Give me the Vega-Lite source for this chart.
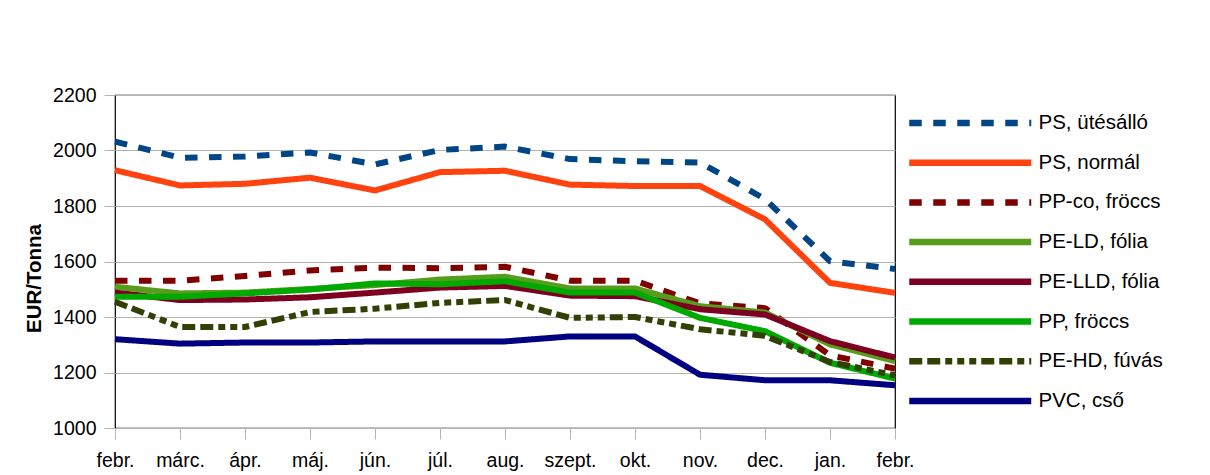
{
  "$schema": "https://vega.github.io/schema/vega-lite/v6.json",
  "width": 780,
  "height": 333,
  "autosize": {"type": "none"},
  "padding": {"left": 115, "top": 95, "right": 315, "bottom": 47},
  "background": "white",
  "config": {
    "font": "Liberation Sans",
    "view": {"stroke": "#000000", "strokeWidth": 1.2}
  },
  "data": {
    "values": [
      {"honap": "febr.", "PS, ütésálló": 2032, "PS, normál": 1929, "PP-co, fröccs": 1531, "PE-LD, fólia": 1509, "PE-LLD, fólia": 1488, "PP, fröccs": 1473, "PE-HD, fúvás": 1455, "PVC, cső": 1320},
      {"honap": "márc.", "PS, ütésálló": 1974, "PS, normál": 1874, "PP-co, fröccs": 1531, "PE-LD, fólia": 1485, "PE-LLD, fólia": 1461, "PP, fröccs": 1473, "PE-HD, fúvás": 1364, "PVC, cső": 1304},
      {"honap": "ápr.", "PS, ütésálló": 1978, "PS, normál": 1880, "PP-co, fröccs": 1548, "PE-LD, fólia": 1488, "PE-LLD, fólia": 1463, "PP, fröccs": 1485, "PE-HD, fúvás": 1364, "PVC, cső": 1308},
      {"honap": "máj.", "PS, ütésálló": 1993, "PS, normál": 1902, "PP-co, fröccs": 1568, "PE-LD, fólia": 1501, "PE-LLD, fólia": 1471, "PP, fröccs": 1499, "PE-HD, fúvás": 1418, "PVC, cső": 1308},
      {"honap": "jún.", "PS, ütésálló": 1950, "PS, normál": 1856, "PP-co, fröccs": 1578, "PE-LD, fólia": 1515, "PE-LLD, fólia": 1488, "PP, fröccs": 1521, "PE-HD, fúvás": 1430, "PVC, cső": 1312},
      {"honap": "júl.", "PS, ütésálló": 2002, "PS, normál": 1922, "PP-co, fröccs": 1576, "PE-LD, fólia": 1535, "PE-LLD, fólia": 1506, "PP, fröccs": 1518, "PE-HD, fúvás": 1451, "PVC, cső": 1312},
      {"honap": "aug.", "PS, ütésálló": 2014, "PS, normál": 1927, "PP-co, fröccs": 1581, "PE-LD, fólia": 1545, "PE-LLD, fólia": 1512, "PP, fröccs": 1529, "PE-HD, fúvás": 1461, "PVC, cső": 1312},
      {"honap": "szept.", "PS, ütésálló": 1969, "PS, normál": 1877, "PP-co, fröccs": 1531, "PE-LD, fólia": 1503, "PE-LLD, fólia": 1477, "PP, fröccs": 1488, "PE-HD, fúvás": 1397, "PVC, cső": 1330},
      {"honap": "okt.", "PS, ütésálló": 1961, "PS, normál": 1872, "PP-co, fröccs": 1531, "PE-LD, fólia": 1503, "PE-LLD, fólia": 1475, "PP, fröccs": 1488, "PE-HD, fúvás": 1400, "PVC, cső": 1330},
      {"honap": "nov.", "PS, ütésálló": 1957, "PS, normál": 1872, "PP-co, fröccs": 1449, "PE-LD, fólia": 1439, "PE-LLD, fólia": 1428, "PP, fröccs": 1397, "PE-HD, fúvás": 1356, "PVC, cső": 1192},
      {"honap": "dec.", "PS, ütésálló": 1825, "PS, normál": 1752, "PP-co, fröccs": 1432, "PE-LD, fólia": 1416, "PE-LLD, fólia": 1409, "PP, fröccs": 1349, "PE-HD, fúvás": 1332, "PVC, cső": 1172},
      {"honap": "jan.", "PS, ütésálló": 1601, "PS, normál": 1523, "PP-co, fröccs": 1262, "PE-LD, fólia": 1301, "PE-LLD, fólia": 1313, "PP, fröccs": 1235, "PE-HD, fúvás": 1238, "PVC, cső": 1172},
      {"honap": "febr. ", "PS, ütésálló": 1573, "PS, normál": 1487, "PP-co, fröccs": 1214, "PE-LD, fólia": 1241, "PE-LLD, fólia": 1254, "PP, fröccs": 1178, "PE-HD, fúvás": 1190, "PVC, cső": 1154}
    ]
  },
  "transform": [
    {"fold": ["PS, ütésálló", "PS, normál", "PP-co, fröccs", "PE-LD, fólia", "PE-LLD, fólia", "PP, fröccs", "PE-HD, fúvás", "PVC, cső"], "as": ["sorozat", "ar"]}
  ],
  "mark": {"type": "line", "strokeWidth": 6, "strokeCap": "butt", "strokeJoin": "round"},
  "encoding": {
    "x": {
      "field": "honap",
      "type": "ordinal",
      "sort": ["febr.", "márc.", "ápr.", "máj.", "jún.", "júl.", "aug.", "szept.", "okt.", "nov.", "dec.", "jan.", "febr. "],
      "scale": {"type": "point", "padding": 0},
      "axis": {
        "title": null,
        "domain": false,
        "grid": false,
        "ticks": true,
        "tickColor": "#b3b3b3",
        "tickSize": 11,
        "labelAngle": 0,
        "labelPadding": 12,
        "labelFontSize": 19.5,
        "labelColor": "#000000",
        "labelExpr": "trim(datum.label)"
      }
    },
    "y": {
      "field": "ar",
      "type": "quantitative",
      "scale": {"domain": [1000, 2200], "nice": false, "zero": false},
      "axis": {
        "values": [1000, 1200, 1400, 1600, 1800, 2000, 2200],
        "format": "d",
        "title": "EUR/Tonna",
        "titleFontSize": 20.5,
        "titleFontWeight": "bold",
        "titleColor": "#000000",
        "titleAngle": 270,
        "titleX": -75,
        "titleY": 183,
        "titleAlign": "center",
        "titleBaseline": "alphabetic",
        "domain": false,
        "grid": true,
        "gridColor": "#b3b3b3",
        "gridWidth": 1,
        "tickColor": "#b3b3b3",
        "tickSize": 11,
        "labelPadding": 8,
        "labelFontSize": 19.5,
        "labelColor": "#000000"
      }
    },
    "color": {
      "field": "sorozat",
      "type": "nominal",
      "scale": {
        "domain": ["PS, ütésálló", "PS, normál", "PP-co, fröccs", "PE-LD, fólia", "PE-LLD, fólia", "PP, fröccs", "PE-HD, fúvás", "PVC, cső"],
        "range": ["#004586", "#ff420e", "#800000", "#579d1c", "#7e0021", "#00a900", "#314004", "#000080"]
      },
      "legend": {
        "title": null,
        "orient": "none",
        "legendX": 790.75,
        "legendY": 18,
        "padding": 0,
        "clipHeight": 20,
        "rowPadding": 18.7,
        "symbolType": "M-1,0H1",
        "symbolSize": 14884,
        "symbolStrokeWidth": 6.5,
        "labelFontSize": 20.5,
        "labelOffset": 3.75,
        "labelColor": "#000000",
        "labelLimit": 300
      }
    },
    "strokeDash": {
      "field": "sorozat",
      "type": "nominal",
      "scale": {
        "domain": ["PS, ütésálló", "PS, normál", "PP-co, fröccs", "PE-LD, fólia", "PE-LLD, fólia", "PP, fröccs", "PE-HD, fúvás", "PVC, cső"],
        "range": [[12.5, 11.5], [1, 0], [12.5, 11.5], [1, 0], [1, 0], [1, 0], [13, 5, 13, 5, 7, 5, 7, 5, 7, 5], [1, 0]]
      },
      "legend": {
        "title": null,
        "orient": "none",
        "legendX": 790.75,
        "legendY": 18,
        "padding": 0,
        "clipHeight": 20,
        "rowPadding": 18.7,
        "symbolType": "M-1,0H1",
        "symbolSize": 14884,
        "symbolStrokeWidth": 6.5,
        "labelFontSize": 20.5,
        "labelOffset": 3.75,
        "labelColor": "#000000",
        "labelLimit": 300
      }
    }
  }
}
